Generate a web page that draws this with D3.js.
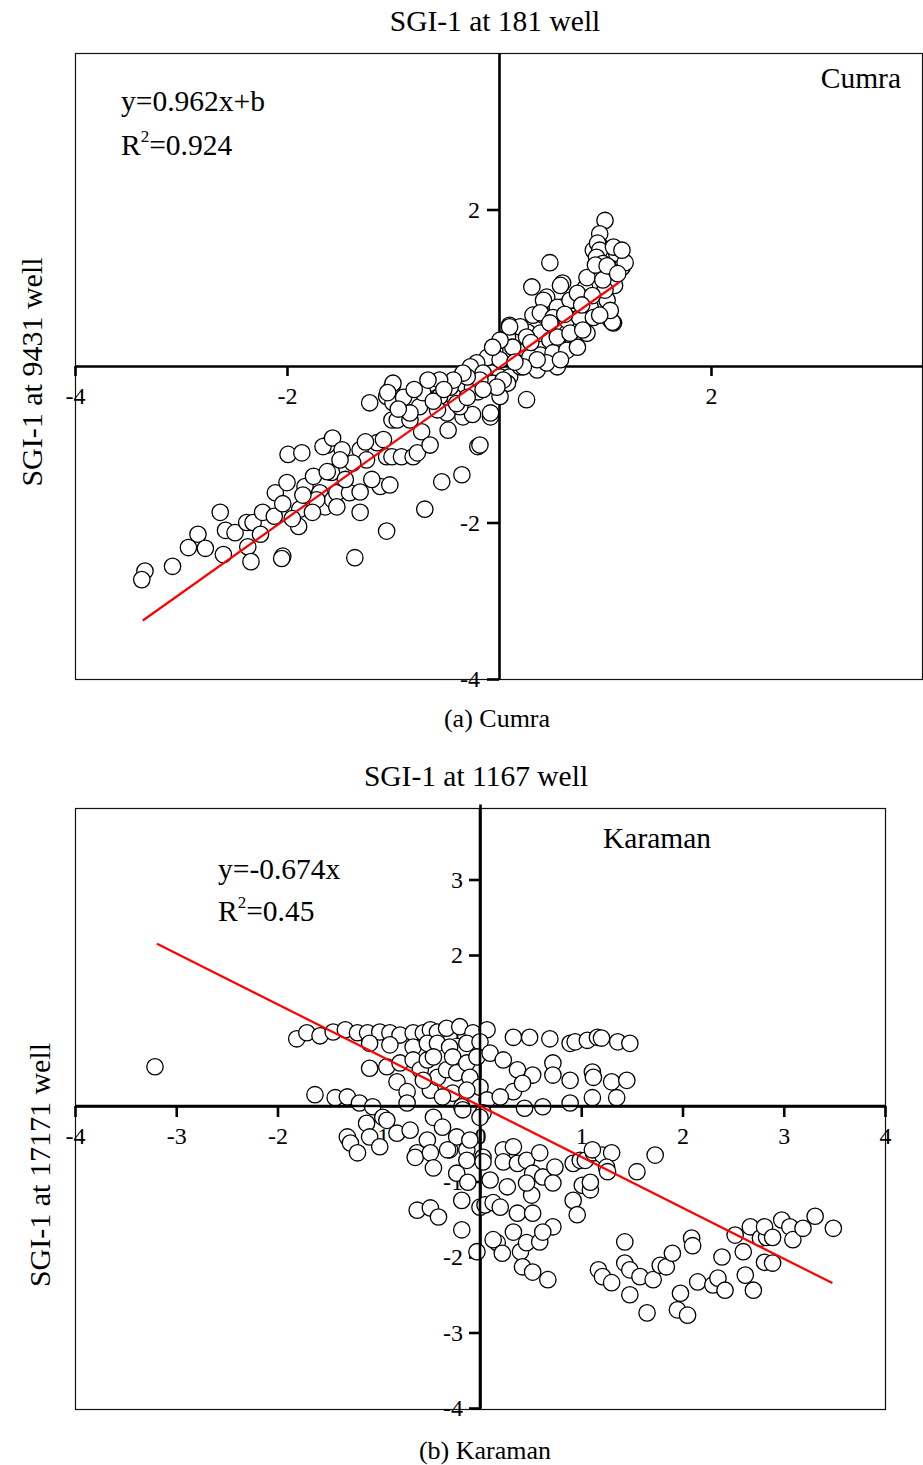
<!DOCTYPE html>
<html>
<head>
<meta charset="utf-8">
<script src="https://cdn.jsdelivr.net/npm/d3@7"></script>
<style>
  body { margin: 0; background: #fff; }
  svg { display: block; }
  text { font-family: "Liberation Serif", "Times New Roman", serif; fill: #000; }
</style>
</head>
<body>
<svg id="chart" width="923" height="1465"></svg>
<script>
// ---- Cumra: SGI-1 at well 181 (x) vs well 9431 (y) ----
const cumraX = [
  -3.34,-3.37,-3.08,-2.93,-2.84,-2.77,-2.63,-2.58,-2.49,-2.60,-2.37,-2.34,-2.38,-2.32,-2.23,-2.11,-2.12,-2.04,-2.00,-1.88,
  -1.89,-2.04,-2.05,-1.83,-1.75,-1.69,-1.69,-1.64,-1.57,-1.53,-1.58,-1.62,-1.66,-1.57,-1.48,-1.41,-1.31,-1.31,-1.36,-1.31,
  -1.25,-1.15,-1.12,-1.06,-1.01,-1.03,-0.92,-0.81,-0.77,-1.06,-1.22,-1.06,-1.01,-1.00,-1.01,-0.96,-0.84,-0.75,-0.73,-0.65,
  -0.68,-0.58,-0.56,-0.49,-0.43,-0.48,-0.34,-0.25,-0.54,-0.35,-0.70,-0.20,-0.18,-0.25,-0.20,-0.08,-0.07,0.48,0.31,0.60,
  0.81,0.95,0.89,0.95,1.02,1.11,1.14,0.45,0.58,0.70,0.42,0.32,0.55,0.70,0.83,0.92,1.02,1.05,1.08,0.10,
  0.20,0.27,0.39,0.48,0.64,0.70,0.83,0.17,0.04,0.10,0.26,0.39,0.51,0.64,0.74,0.55,-0.04,-0.11,-0.21,-0.27,
  -0.15,0.01,0.10,0.20,0.29,0.36,0.45,0.08,-0.06,0.26,-0.18,-0.30,-0.46,-0.65,-0.72,-0.56,-0.58,-0.84,-0.37,-0.08,
  0.01,1.00,0.95,0.93,0.95,0.92,0.98,1.11,1.16,1.08,0.58,0.83,1.07,0.42,0.55,0.67,0.74,0.86,0.39,0.51,
  0.64,0.76,0.89,0.20,0.26,0.55,0.67,0.79,0.08,0.13,0.58,0.36,0.23,0.01,0.04,0.10,0.01,-0.06,-0.34,-0.43,
  -0.56,-0.67,-1.00,-1.05,-0.02,1.05,1.09,1.00,1.19,1.16,0.91,1.05,-1.99,-1.86,-1.26,-1.09,-1.38,-1.50,-1.62,-1.72,
  -1.53,-1.76,-0.90,-0.80,-0.62,-0.52,-0.40,-0.30,-0.15,-0.95,0.98,1.02,1.12,0.88,0.95,0.78,0.62,0.48,0.30,0.15,
  -1.45,-1.20,-1.85,-2.25,-1.95
];
const cumraY = [
  -2.62,-2.73,-2.56,-2.32,-2.15,-2.33,-1.87,-2.10,-2.13,-2.41,-2.31,-2.50,-2.00,-2.00,-1.87,-1.62,-1.92,-1.76,-1.49,-1.83,
  -2.05,-2.43,-2.46,-1.54,-1.41,-1.62,-1.75,-1.80,-1.71,-1.62,-1.36,-1.01,-1.03,-0.92,-1.07,-1.62,-1.87,-1.61,-2.45,-1.07,
  -1.20,-0.98,-1.54,-1.16,-1.16,-1.52,-1.16,-1.16,-1.11,-2.11,-0.47,-0.39,-0.27,-0.47,-0.69,-0.69,-0.69,-0.52,-0.84,-1.01,
  -0.34,-0.27,-0.47,-0.60,-0.39,-0.82,-0.65,-0.62,-1.48,-1.39,-1.83,-1.03,-1.01,-0.28,-0.33,-0.65,-0.09,1.32,1.01,1.06,
  0.99,1.20,1.48,1.54,1.44,1.35,1.41,0.88,0.75,0.84,0.65,0.65,0.55,0.59,0.62,0.75,0.84,0.59,0.55,0.52,
  0.48,0.43,0.42,0.33,0.42,0.33,0.42,0.33,0.33,0.20,0.20,0.14,0.17,0.20,0.24,-0.01,0.20,0.11,0.04,-0.01,
  -0.09,-0.14,-0.14,-0.01,0.11,-0.05,0.04,-0.22,-0.22,-0.43,-0.18,-0.14,-0.27,-0.22,-0.34,-0.39,-0.56,-0.60,-0.52,-0.60,
  -0.39,1.86,1.69,1.57,1.48,1.39,1.31,1.44,1.26,1.52,1.03,1.13,0.56,0.84,0.75,0.84,0.93,0.75,0.68,0.62,
  0.59,0.62,0.62,0.50,0.37,0.37,0.42,0.46,0.37,0.24,0.08,0.08,-0.01,0.08,-0.18,0.50,0.33,0.24,-0.09,-0.18,
  -0.18,-0.18,-0.22,-0.34,-0.27,1.22,1.03,0.97,1.32,1.48,1.29,0.71,-1.13,-1.11,-0.97,-0.94,-1.24,-1.20,-1.35,-1.71,
  -1.80,-1.87,-0.40,-0.30,-0.45,-0.30,-0.48,-0.40,-0.30,-0.55,1.10,1.28,1.18,0.90,0.65,0.78,0.66,0.55,0.30,0.05,
  -1.45,-1.45,-1.65,-2.15,-1.95
];
const cumraFit = { slope: 0.962, intercept: -0.02, xFrom: -3.36, xTo: 1.14 };
const cumraXTicks = [-4, -2, 0, 2];
const cumraYTicks = [-4, -2, 2];

// ---- Karaman: SGI-1 at well 1167 (x) vs well 17171 (y) ----
const karamanX = [
  -3.21,
  -1.81,-1.71,-1.58,-1.45,-1.33,-1.21,-1.11,-0.99,-0.89,-0.79,-0.66,-0.56,-0.49,-0.42,-0.33,-0.20,-0.07,0.07,0.33,0.49,
  0.69,0.89,0.94,1.06,1.16,1.20,1.36,1.48,
  -1.09,-0.89,-0.66,-0.52,-0.42,-0.30,-0.13,0.00,
  -1.09,-0.92,-0.79,-0.82,-0.72,-0.66,-0.59,-0.52,-0.46,-0.49,-0.42,-0.33,-0.27,-0.23,-0.13,-0.10,-0.03,0.00,-0.27,-0.13,
  0.07,0.03,-0.37,-0.56,-0.18,
  0.10,0.23,0.37,0.33,0.52,0.42,0.72,0.72,0.89,1.11,1.12,1.30,1.45,0.44,0.62,0.89,1.11,1.35,0.20,
  -1.63,-1.43,-1.31,-1.19,-1.06,-0.96,
  -1.31,-1.28,-1.21,-1.12,-1.09,-0.99,-0.92,-0.82,-0.72,-0.69,-0.62,-0.52,-0.46,-0.37,-0.30,-0.23,-0.13,-0.10,-0.17,0.00,0.03,
  -0.64,-0.49,-0.46,-0.32,-0.23,-0.18,-0.18,-0.12,-0.13,-0.03,0.03,0.00,0.05,-0.62,-0.49,-0.41,0.10,0.13,0.20,0.23,
  0.23,0.33,0.37,0.27,0.37,0.33,0.17,0.13,0.22,0.40,0.42,0.52,0.67,0.46,0.59,0.72,0.46,0.52,0.59,0.62,
  0.74,0.72,0.51,0.46,0.52,0.62,
  0.92,0.99,1.04,0.92,0.96,1.01,1.09,1.09,1.12,1.21,1.30,1.25,1.26,1.55,1.73,1.43,1.11,
  1.17,1.21,1.30,1.43,1.48,1.58,1.48,1.65,1.71,1.78,1.84,1.90,1.98,1.95,2.05,2.09,2.10,2.15,2.30,2.35,
  2.42,2.39,2.62,2.70,2.60,2.81,2.89,2.52,2.67,2.77,2.83,2.81,2.89,2.98,3.06,3.09,3.19,3.31,3.49
];
const karamanY = [
  0.52,
  0.89,0.97,0.93,0.98,1.01,0.97,0.97,0.98,0.97,0.94,0.97,0.97,1.01,0.98,1.03,1.05,0.97,1.01,0.91,0.91,
  0.89,0.83,0.85,0.87,0.91,0.90,0.85,0.83,
  0.83,0.81,0.78,0.83,0.83,0.78,0.83,0.85,
  0.50,0.52,0.57,0.32,0.19,0.61,0.48,0.61,0.65,0.21,0.38,0.48,0.65,0.44,0.57,0.38,0.65,0.25,0.17,0.21,
  0.08,-0.09,0.12,0.34,-0.01,
  0.70,0.61,0.48,0.19,0.41,0.30,0.57,0.41,0.34,0.45,0.38,0.32,0.34,-0.03,-0.01,0.04,0.11,0.11,0.12,
  0.15,0.11,0.12,0.04,-0.01,-0.15,
  -0.41,-0.49,-0.62,-0.23,-0.41,-0.54,-0.19,-0.36,0.04,-0.32,-0.62,-0.45,-0.15,-0.28,-0.58,-0.41,-0.58,-0.45,-0.05,-0.15,-0.68,
  -0.68,-0.62,-0.82,-0.58,-0.89,-1.25,-1.64,-1.01,-0.72,-1.93,-0.74,-1.34,-1.31,-1.38,-1.35,-1.47,-0.98,-1.28,-1.34,-0.58,
  -0.74,-0.54,-0.76,-1.07,-1.42,-1.67,-1.81,-1.77,-1.95,-1.93,-2.13,-2.20,-2.30,-1.81,-1.80,-1.60,-0.72,-0.89,-0.62,-0.94,
  -0.81,-1.02,-1.18,-1.02,-1.42,-1.67,
  -0.76,-0.72,-0.72,-1.25,-1.44,-1.05,-1.11,-1.01,-0.62,-0.65,-0.62,-0.81,-0.87,-0.87,-0.65,-1.80,-0.58,
  -2.17,-2.26,-2.34,-2.08,-2.17,-2.26,-2.50,-2.74,-2.30,-2.11,-2.13,-1.95,-2.48,-2.70,-2.77,-1.75,-1.85,-2.33,-2.37,-2.28,
  -2.44,-2.00,-2.24,-2.44,-1.93,-2.07,-2.08,-1.71,-1.60,-1.75,-1.74,-1.60,-1.74,-1.51,-1.60,-1.77,-1.62,-1.46,-1.62
];
const karamanFit = { slope: -0.674, intercept: 0.0, xFrom: -3.19, xTo: 3.48 };
const karamanXTicks = [-4, -3, -2, -1, 0, 1, 2, 3, 4];
const karamanYTicks = [-4, -3, -2, -1, 1, 2, 3];

const svg = d3.select("#chart");

function drawPanel(o) {
  const g = svg.append("g");
  const x = d3.scaleLinear().domain([-4, 4]).range([o.x0, o.x1]);
  const y = d3.scaleLinear().domain([-4, 4]).range([o.y0, o.y1]);
  const fmt = d => String(d);

  // plot frame
  g.append("rect")
    .attr("x", o.frame[0] + 0.5).attr("y", o.frame[1] + 0.5)
    .attr("width", o.frame[2] - o.frame[0] - 1).attr("height", o.frame[3] - o.frame[1] - 1)
    .attr("fill", "none").attr("stroke", "#111").attr("stroke-width", 1.2);

  // titles and annotations
  g.append("text").attr("x", o.titleX).attr("y", o.titleY)
    .attr("text-anchor", "middle").style("font-size", "29.5px").text(o.title);
  g.append("text").attr("x", o.captionX).attr("y", o.captionY)
    .attr("text-anchor", "middle").style("font-size", "26px").text(o.caption);
  g.append("text")
    .attr("transform", `translate(${o.yLabelX},${o.yLabelY}) rotate(-90)`)
    .attr("text-anchor", "middle").style("font-size", "30px").text(o.yLabel);
  g.append("text").attr("x", o.siteX).attr("y", o.siteY)
    .attr("text-anchor", o.siteAnchor).style("font-size", "29.5px").text(o.site);
  g.append("text").attr("x", o.eqX).attr("y", o.eqY)
    .style("font-size", "29.5px").text(o.equation);
  const r2 = g.append("text").attr("x", o.eqX).attr("y", o.eqY + o.eqGap).style("font-size", "29.5px");
  r2.append("tspan").text("R");
  r2.append("tspan").attr("dy", -13).style("font-size", "17px").text("2");
  r2.append("tspan").attr("dy", 13).text("=" + o.r2);

  // axes crossing at the origin
  const xAxis = d3.axisBottom(x).tickValues(o.xTicks).tickFormat(fmt)
    .tickSize(o.xTickLen).tickSizeOuter(0);
  const yAxis = d3.axisLeft(y).tickValues(o.yTicks).tickFormat(fmt)
    .tickSize(o.yTickLen).tickPadding(o.yPad).tickSizeOuter(0);

  const gx = g.append("g").attr("transform", `translate(0,${y(0)})`).call(xAxis);
  const gy = g.append("g").attr("transform", `translate(${x(0)},0)`).call(yAxis);
  [gx, gy].forEach(a => {
    a.attr("font-size", null).attr("font-family", null);
    a.select(".domain").attr("stroke", "#000").attr("stroke-width", 2.6);
    a.selectAll(".tick line").attr("stroke", "#000").attr("stroke-width", 2.6);
    a.selectAll(".tick text").style("font-family", '"Liberation Serif", serif')
      .style("font-size", "24px").attr("fill", "#000");
  });
  gx.selectAll(".tick text").attr("y", 38).attr("dy", null);

  // observations
  g.append("g").selectAll("circle")
    .data(d3.zip(o.xs, o.ys))
    .join("circle")
    .attr("cx", d => x(d[0])).attr("cy", d => y(d[1]))
    .attr("r", 8.2)
    .attr("fill", "#fff").attr("stroke", "#000").attr("stroke-width", 1.3);

  // axis lines above the markers where needed
  if (o.axisOnTop) {
    const top = g.append("g");
    top.append("line").attr("x1", x(-4)).attr("x2", x(4)).attr("y1", y(0)).attr("y2", y(0))
      .attr("stroke", "#000").attr("stroke-width", 2.6);
    top.append("line").attr("x1", x(0)).attr("x2", x(0)).attr("y1", o.frame[1]).attr("y2", o.frame[3])
      .attr("stroke", "#000").attr("stroke-width", 2.6);
  }

  // fitted regression line
  const f = o.fit;
  g.append("line")
    .attr("x1", x(f.xFrom)).attr("y1", y(f.slope * f.xFrom + f.intercept))
    .attr("x2", x(f.xTo)).attr("y2", y(f.slope * f.xTo + f.intercept))
    .attr("stroke", "#ff0000").attr("stroke-width", 2.2);
}

drawPanel({
  xs: cumraX, ys: cumraY, fit: cumraFit,
  x0: 75, x1: 923, y0: 679, y1: 53,
  frame: [75, 53, 923, 680],
  xTicks: cumraXTicks, yTicks: cumraYTicks,
  xTickLen: 10, yTickLen: 12, yPad: 7,
  title: "SGI-1 at 181 well", titleX: 495, titleY: 31,
  caption: "(a) Cumra", captionX: 497, captionY: 727,
  yLabel: "SGI-1 at 9431 well", yLabelX: 42, yLabelY: 372,
  site: "Cumra", siteX: 901, siteY: 88, siteAnchor: "end",
  equation: "y=0.962x+b", r2: "0.924", eqX: 121, eqY: 111, eqGap: 44,
  axisOnTop: false
});

drawPanel({
  xs: karamanX, ys: karamanY, fit: karamanFit,
  x0: 75, x1: 885, y0: 1408, y1: 804,
  frame: [75, 808, 886, 1410],
  xTicks: karamanXTicks, yTicks: karamanYTicks,
  xTickLen: 11, yTickLen: 11, yPad: 6,
  title: "SGI-1 at 1167 well", titleX: 476, titleY: 786,
  caption: "(b) Karaman", captionX: 485, captionY: 1459,
  yLabel: "SGI-1 at 17171 well", yLabelX: 50, yLabelY: 1165,
  site: "Karaman", siteX: 603, siteY: 848, siteAnchor: "start",
  equation: "y=-0.674x", r2: "0.45", eqX: 218, eqY: 879, eqGap: 42,
  axisOnTop: true
});
</script>
</body>
</html>
